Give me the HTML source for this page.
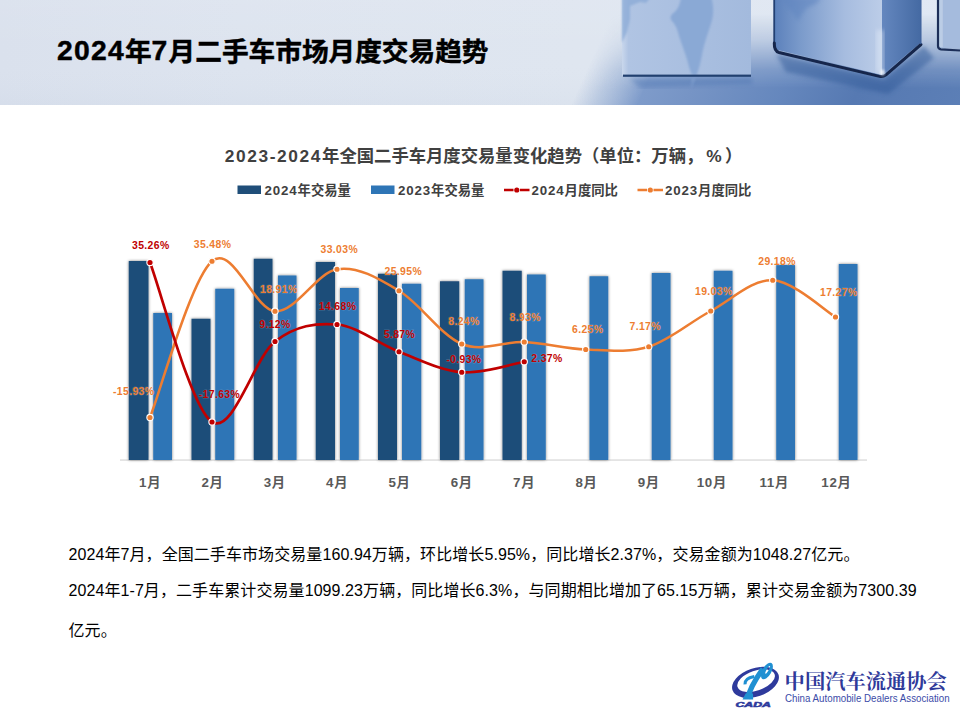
<!DOCTYPE html>
<html lang="zh-CN">
<head>
<meta charset="utf-8">
<title>2024年7月二手车市场月度交易趋势</title>
<style>
html,body{margin:0;padding:0;background:#fff;}
body{width:960px;height:720px;overflow:hidden;position:relative;font-family:"Liberation Sans","Noto Sans CJK SC",sans-serif;}
.banner{position:absolute;left:0;top:0;width:960px;height:104.7px;overflow:hidden;}
.banner svg{display:block;}
h1{position:absolute;left:57px;top:34.4px;margin:0;font-size:26.67px;line-height:36px;font-weight:bold;color:#000;white-space:nowrap;letter-spacing:0px;-webkit-text-stroke:.45px #000;}
h1 .n{font-size:28.3px;letter-spacing:1.25px;position:relative;top:-1.2px;line-height:0;}
.chart{position:absolute;left:0;top:120px;}
.ct{font-family:"Liberation Sans","Noto Sans CJK SC",sans-serif;font-weight:bold;font-size:17.33px;fill:#404040;}
.lg{font-family:"Liberation Sans","Noto Sans CJK SC",sans-serif;font-weight:bold;font-size:13.33px;fill:#404040;}
.dl{font-family:"Liberation Sans",sans-serif;font-weight:bold;font-size:10.4px;letter-spacing:.38px;paint-order:stroke;stroke:#fff;stroke-opacity:.2;stroke-width:1.2px;}
.mo{font-family:"Liberation Sans","Noto Sans CJK SC",sans-serif;font-weight:bold;font-size:13.33px;fill:#595959;}
.body{position:absolute;left:68.5px;top:536px;width:880px;margin:0;font-size:16px;line-height:38.5px;color:#000;letter-spacing:.08px;}
.body p{margin:0;white-space:nowrap;position:absolute;left:0;}
.logo{position:absolute;left:728px;top:656px;}
</style>
</head>
<body>
<div class="banner">
<svg width="960" height="105" viewBox="0 0 960 105">
<defs>
<linearGradient id="bg" x1="0" x2="1" y1="0" y2="0">
<stop offset="0" stop-color="#dae1ed"/><stop offset=".25" stop-color="#dde4ef"/><stop offset=".6" stop-color="#dfe6f0"/><stop offset="1" stop-color="#dfe7f3"/>
</linearGradient>
<linearGradient id="bgv" x1="0" x2="0" y1="0" y2="1">
<stop offset="0" stop-color="#fff" stop-opacity=".06"/><stop offset=".5" stop-color="#fff" stop-opacity="0"/><stop offset="1" stop-color="#8aa0c0" stop-opacity=".05"/>
</linearGradient>
<linearGradient id="floor" gradientUnits="userSpaceOnUse" x1="618" x2="1030" y1="0" y2="0" gradientTransform="skewX(-24)">
<stop offset="0" stop-color="#93abd2" stop-opacity="0"/><stop offset=".06" stop-color="#8ea8d0" stop-opacity=".45"/><stop offset=".16" stop-color="#7e9bca" stop-opacity="1"/><stop offset=".28" stop-color="#7694c5"/><stop offset=".5" stop-color="#6587bd"/><stop offset=".68" stop-color="#5679b2"/><stop offset="1" stop-color="#5d80b7"/>
</linearGradient>
<linearGradient id="fm" gradientUnits="userSpaceOnUse" x1="0" x2="0" y1="14" y2="88">
<stop offset="0" stop-color="#000"/><stop offset=".35" stop-color="#4a4a4a"/><stop offset=".75" stop-color="#d0d0d0"/><stop offset="1" stop-color="#fff"/>
</linearGradient>
<filter id="b05"><feGaussianBlur stdDeviation="0.5"/></filter>
<filter id="b1"><feGaussianBlur stdDeviation="1"/></filter>
<filter id="b2"><feGaussianBlur stdDeviation="2"/></filter>
<filter id="b7" x="-10%" y="-30%" width="120%" height="160%"><feGaussianBlur stdDeviation="13 6"/></filter>
<mask id="fmask" maskUnits="userSpaceOnUse" x="500" y="0" width="460" height="105"><rect x="500" y="0" width="460" height="105" fill="url(#fm)"/></mask>
<linearGradient id="c1" x1="0" x2="1" y1="0" y2="0">
<stop offset="0" stop-color="#c9d7ec"/><stop offset=".05" stop-color="#b0c4e3"/><stop offset="1" stop-color="#a3badd"/>
</linearGradient>
<linearGradient id="c2" x1="0" x2="1" y1="0" y2="0">
<stop offset="0" stop-color="#5b80bb"/><stop offset=".25" stop-color="#7b9bcb"/><stop offset=".65" stop-color="#a6bcdf"/><stop offset="1" stop-color="#bccde8"/>
</linearGradient>
<linearGradient id="c2r" x1="0" x2="1" y1="0" y2="0">
<stop offset="0" stop-color="#6487bf"/><stop offset="1" stop-color="#456aa3"/>
</linearGradient>
</defs>
<rect width="960" height="105" fill="url(#bg)"/>
<rect width="960" height="105" fill="url(#bgv)"/>
<rect x="500" y="0" width="460" height="105" fill="url(#floor)" mask="url(#fmask)"/>
<!-- contact shadows -->
<path d="M630 79L752 78L752 84L640 88Z" fill="#3f6aaa" opacity=".35" filter="url(#b2)"/>
<path d="M776 54L884 80L924 46L934 58L888 94L786 72Z" fill="#2f5897" opacity=".5" filter="url(#b2)"/>
<!-- cube 1 -->
<rect x="622" y="0" width="129" height="75.5" fill="url(#c1)"/>
<g filter="url(#b1)" fill="#8aa9d5">
<path d="M681 -2L711.5 -2C713.5 6 714 14 711.5 22C708.5 32 704.5 42 702.5 52C701 60 699.5 68 696.5 75.5L692 75C690 70 688.5 66 687.5 61C685 52 681.5 44 679 36C677.5 30 676 25 672 21C669.5 18 670.5 15 674 12.5C678 9.5 680 4 681 -2Z"/>
<path d="M622 -2L650 -2L646 3L640 2L630 6L630 19L627 32L622 43Z" opacity=".75"/>
<path d="M691.5 78L696 78L691 89Z" opacity=".45"/>
</g>
<rect x="623" y="74.6" width="128" height="2.2" fill="#21406f"/>
<!-- cube 2 -->
<path d="M774 0L774 49L882 75L882 0Z" fill="url(#c2)"/>
<path d="M882 0L882 75L920.5 43L920.5 0Z" fill="url(#c2r)"/>
<path d="M783 -3L821 -3C818 4 812 6 808 7C804 10 801 16 798 21C795 18 793 12 789 9C786 6 784 2 783 -3Z" fill="#5f84bf" opacity=".55" filter="url(#b2)"/>
<path d="M876 30L884 30L884 74L876 72Z" fill="#dfe8f6" opacity=".5" filter="url(#b2)"/>
<g filter="url(#b05)">
<path d="M774.2 0L774.2 46" fill="none" stroke="#223f73" stroke-width="1.8"/>
<path d="M774.3 43Q774 51 779 52.5L879.5 76.4Q883 77.2 886 74.8L921 44.5" fill="none" stroke="#14264b" stroke-width="3" stroke-linecap="round"/>
<path d="M920.8 0L920.8 44" stroke="#3a5f9b" stroke-width="1.4"/>
</g>
<ellipse cx="882.5" cy="72.5" rx="2.2" ry="3" fill="#fff" opacity=".75" filter="url(#b1)"/>
<!-- cube 3 -->
<rect x="938" y="0" width="30" height="48" fill="#a5bbdd"/>
<rect x="938.8" y="0" width="4" height="47" fill="#c5d4ea" opacity=".7"/>
<path d="M938 0L938 46Q938 49 941 49.3L960 50.5" fill="none" stroke="#1b2f58" stroke-width="2.2" filter="url(#b05)"/>
</svg>
</div>
<h1><span class="n">2024</span>年<span class="n">7</span>月二手车市场月度交易趋势</h1>
<svg class="chart" width="960" height="400" viewBox="0 120 960 400">
<defs><filter id="sh" x="-20%" y="-5%" width="140%" height="110%"><feGaussianBlur in="SourceAlpha" stdDeviation="1.4"/><feComponentTransfer><feFuncA type="linear" slope="0.5"/></feComponentTransfer><feMerge><feMergeNode/><feMergeNode in="SourceGraphic"/></feMerge></filter></defs>
<text x="224.8" y="162" class="ct"><tspan letter-spacing="1.6">2023-2024</tspan>年全国二手车月度交易量变化趋势（单位：万辆，<tspan dx="3" letter-spacing="3.2">%</tspan>）</text>
<rect x="237.5" y="185.5" width="23.5" height="8.5" fill="#1f4e79"/>
<text x="264.5" y="194.8" class="lg"><tspan letter-spacing=".85">2024</tspan>年交易量</text>
<rect x="371" y="185.5" width="23.5" height="8.5" fill="#2e75b6"/>
<text x="398" y="194.8" class="lg"><tspan letter-spacing=".85">2023</tspan>年交易量</text>
<path d="M504 190h9.5M520 190h9.5" stroke="#c00000" stroke-width="2.6"/><circle cx="516.8" cy="190" r="2.6" fill="#c00000"/>
<text x="531.5" y="194.8" class="lg"><tspan letter-spacing=".85">2024</tspan>月度同比</text>
<path d="M637.5 190h9.5M653.5 190h9.5" stroke="#ed7d31" stroke-width="2.6"/><circle cx="650.3" cy="190" r="2.6" fill="#ed7d31"/>
<text x="665" y="194.8" class="lg"><tspan letter-spacing=".85">2023</tspan>月度同比</text>
<rect x="120" y="459.4" width="747" height="1.3" fill="#d9d9d9"/>
<g filter="url(#sh)">
<rect x="128.75" y="261.00" width="19.75" height="199.00" fill="#1f4e79"/>
<rect x="191.50" y="318.75" width="19.00" height="141.25" fill="#1f4e79"/>
<rect x="253.75" y="258.75" width="18.75" height="201.25" fill="#1f4e79"/>
<rect x="315.75" y="262.00" width="19.25" height="198.00" fill="#1f4e79"/>
<rect x="378.00" y="273.75" width="19.00" height="186.25" fill="#1f4e79"/>
<rect x="440.00" y="281.25" width="19.25" height="178.75" fill="#1f4e79"/>
<rect x="502.50" y="270.75" width="19.25" height="189.25" fill="#1f4e79"/>
<rect x="153.25" y="313.00" width="18.75" height="147.00" fill="#2e75b6"/>
<rect x="215.25" y="288.75" width="19.00" height="171.25" fill="#2e75b6"/>
<rect x="278.00" y="275.50" width="18.50" height="184.50" fill="#2e75b6"/>
<rect x="340.00" y="288.00" width="18.75" height="172.00" fill="#2e75b6"/>
<rect x="402.00" y="283.75" width="19.25" height="176.25" fill="#2e75b6"/>
<rect x="464.75" y="279.25" width="18.75" height="180.75" fill="#2e75b6"/>
<rect x="527.00" y="274.50" width="18.75" height="185.50" fill="#2e75b6"/>
<rect x="589.50" y="276.25" width="18.75" height="183.75" fill="#2e75b6"/>
<rect x="651.75" y="273.00" width="18.75" height="187.00" fill="#2e75b6"/>
<rect x="713.75" y="270.75" width="18.75" height="189.25" fill="#2e75b6"/>
<rect x="776.25" y="265.00" width="18.75" height="195.00" fill="#2e75b6"/>
<rect x="838.75" y="264.00" width="18.75" height="196.00" fill="#2e75b6"/>
</g>
<path d="M150.00 417.50 C160.33 391.46 191.17 278.96 212.00 261.25 C232.83 243.54 254.17 309.92 275.00 311.25 C295.83 312.58 316.33 272.67 337.00 269.25 C357.67 265.83 378.21 278.29 399.00 290.75 C419.79 303.21 440.88 335.46 461.75 344.00 C482.62 352.54 503.58 341.08 524.25 342.00 C544.92 342.92 565.00 348.71 585.75 349.50 C606.50 350.29 627.92 353.17 648.75 346.75 C669.58 340.33 690.08 322.08 710.75 311.00 C731.42 299.92 751.96 279.25 772.75 280.25 C793.54 281.25 825.04 310.88 835.50 317.00" fill="none" stroke="#ed7d31" stroke-width="2.55" stroke-linecap="round" stroke-linejoin="round"/>
<path d="M150.00 262.50 C160.33 289.08 191.17 408.83 212.00 422.00 C232.83 435.17 254.17 357.75 275.00 341.50 C295.83 325.25 316.33 322.79 337.00 324.50 C357.67 326.21 378.21 343.79 399.00 351.75 C419.79 359.71 440.88 370.58 461.75 372.25 C482.62 373.92 513.83 363.50 524.25 361.75" fill="none" stroke="#c00000" stroke-width="2.7" stroke-linecap="round" stroke-linejoin="round"/>
<circle cx="150.00" cy="417.50" r="3.15" fill="#ed7d31" stroke="#fff" stroke-width="1.1"/>
<circle cx="212.00" cy="261.25" r="3.15" fill="#ed7d31" stroke="#fff" stroke-width="1.1"/>
<circle cx="275.00" cy="311.25" r="3.15" fill="#ed7d31" stroke="#fff" stroke-width="1.1"/>
<circle cx="337.00" cy="269.25" r="3.15" fill="#ed7d31" stroke="#fff" stroke-width="1.1"/>
<circle cx="399.00" cy="290.75" r="3.15" fill="#ed7d31" stroke="#fff" stroke-width="1.1"/>
<circle cx="461.75" cy="344.00" r="3.15" fill="#ed7d31" stroke="#fff" stroke-width="1.1"/>
<circle cx="524.25" cy="342.00" r="3.15" fill="#ed7d31" stroke="#fff" stroke-width="1.1"/>
<circle cx="585.75" cy="349.50" r="3.15" fill="#ed7d31" stroke="#fff" stroke-width="1.1"/>
<circle cx="648.75" cy="346.75" r="3.15" fill="#ed7d31" stroke="#fff" stroke-width="1.1"/>
<circle cx="710.75" cy="311.00" r="3.15" fill="#ed7d31" stroke="#fff" stroke-width="1.1"/>
<circle cx="772.75" cy="280.25" r="3.15" fill="#ed7d31" stroke="#fff" stroke-width="1.1"/>
<circle cx="835.50" cy="317.00" r="3.15" fill="#ed7d31" stroke="#fff" stroke-width="1.1"/>
<circle cx="150.00" cy="262.50" r="3.15" fill="#c00000" stroke="#fff" stroke-width="1.1"/>
<circle cx="212.00" cy="422.00" r="3.15" fill="#c00000" stroke="#fff" stroke-width="1.1"/>
<circle cx="275.00" cy="341.50" r="3.15" fill="#c00000" stroke="#fff" stroke-width="1.1"/>
<circle cx="337.00" cy="324.50" r="3.15" fill="#c00000" stroke="#fff" stroke-width="1.1"/>
<circle cx="399.00" cy="351.75" r="3.15" fill="#c00000" stroke="#fff" stroke-width="1.1"/>
<circle cx="461.75" cy="372.25" r="3.15" fill="#c00000" stroke="#fff" stroke-width="1.1"/>
<circle cx="524.25" cy="361.75" r="3.15" fill="#c00000" stroke="#fff" stroke-width="1.1"/>
<text x="132.00" y="248.50" class="dl" fill="#c00000">35.26%</text>
<text x="193.75" y="247.75" class="dl" fill="#ed7d31">35.48%</text>
<text x="260.00" y="293.25" class="dl" fill="#ed7d31">18.91%</text>
<text x="259.25" y="327.75" class="dl" fill="#c00000">9.12%</text>
<text x="320.50" y="253.00" class="dl" fill="#ed7d31">33.03%</text>
<text x="318.75" y="310.25" class="dl" fill="#c00000">14.68%</text>
<text x="113.00" y="395.25" class="dl" fill="#ed7d31">-15.93%</text>
<text x="198.75" y="398.25" class="dl" fill="#c00000">-17.63%</text>
<text x="384.50" y="274.50" class="dl" fill="#ed7d31">25.95%</text>
<text x="383.75" y="337.75" class="dl" fill="#c00000">5.87%</text>
<text x="448.25" y="324.50" class="dl" fill="#ed7d31">8.24%</text>
<text x="446.25" y="363.25" class="dl" fill="#c00000">-0.93%</text>
<text x="509.50" y="321.00" class="dl" fill="#ed7d31">8.93%</text>
<text x="531.25" y="362.00" class="dl" fill="#c00000">2.37%</text>
<text x="572.00" y="333.25" class="dl" fill="#ed7d31">6.25%</text>
<text x="629.50" y="329.50" class="dl" fill="#ed7d31">7.17%</text>
<text x="695.00" y="295.25" class="dl" fill="#ed7d31">19.03%</text>
<text x="758.25" y="264.75" class="dl" fill="#ed7d31">29.18%</text>
<text x="820.00" y="295.50" class="dl" fill="#ed7d31">17.27%</text>
<text x="149.80" y="486.8" text-anchor="middle" class="mo"><tspan letter-spacing=".7">1</tspan>月</text>
<text x="212.13" y="486.8" text-anchor="middle" class="mo"><tspan letter-spacing=".7">2</tspan>月</text>
<text x="274.46" y="486.8" text-anchor="middle" class="mo"><tspan letter-spacing=".7">3</tspan>月</text>
<text x="336.79" y="486.8" text-anchor="middle" class="mo"><tspan letter-spacing=".7">4</tspan>月</text>
<text x="399.12" y="486.8" text-anchor="middle" class="mo"><tspan letter-spacing=".7">5</tspan>月</text>
<text x="461.45" y="486.8" text-anchor="middle" class="mo"><tspan letter-spacing=".7">6</tspan>月</text>
<text x="523.78" y="486.8" text-anchor="middle" class="mo"><tspan letter-spacing=".7">7</tspan>月</text>
<text x="586.11" y="486.8" text-anchor="middle" class="mo"><tspan letter-spacing=".7">8</tspan>月</text>
<text x="648.44" y="486.8" text-anchor="middle" class="mo"><tspan letter-spacing=".7">9</tspan>月</text>
<text x="711.47" y="486.8" text-anchor="middle" class="mo"><tspan letter-spacing=".7">10</tspan>月</text>
<text x="773.80" y="486.8" text-anchor="middle" class="mo"><tspan letter-spacing=".7">11</tspan>月</text>
<text x="836.13" y="486.8" text-anchor="middle" class="mo"><tspan letter-spacing=".7">12</tspan>月</text>
</svg>
<div class="body">
<p style="top:0">2024年7月，全国二手车市场交易量160.94万辆，环比增长5.95%，同比增长2.37%，交易金额为1048.27亿元。</p>
<p style="top:35.6px">2024年1-7月，二手车累计交易量1099.23万辆，同比增长6.3%，与同期相比增加了65.15万辆，累计交易金额为7300.39</p>
<p style="top:76px">亿元。</p>
</div>
<div class="logo">
<svg width="232" height="64" viewBox="728 656 232 64">
<defs><mask id="rm" maskUnits="userSpaceOnUse" x="720" y="650" width="80" height="70"><rect x="720" y="650" width="80" height="70" fill="#fff"/><ellipse cx="756.1" cy="680.7" rx="19.6" ry="9.9" transform="rotate(-19 756.1 680.7)" fill="#000"/></mask>
<mask id="lm" maskUnits="userSpaceOnUse" x="720" y="650" width="80" height="70"><rect x="720" y="650" width="80" height="70" fill="#fff"/><ellipse cx="767.67" cy="669.83" rx="1.0" ry="4.4" transform="rotate(30 767.67 669.83)" fill="#000"/></mask></defs>
<g mask="url(#rm)"><ellipse cx="755.5" cy="682.4" rx="24.3" ry="14.2" transform="rotate(-19 755.5 682.4)" fill="#2e3a9c"/></g>
<g fill="none" stroke="#2090d2" stroke-linecap="butt">
<path d="M747.67 698.75C749.00 690.83 753.75 681.67 762.92 668.75" stroke-width="5.3"/>
<path d="M745.00 684.33C744.67 679.67 749.17 677.33 754.33 676.50" stroke-width="3.1"/>
</g>
<g mask="url(#lm)"><ellipse cx="766.92" cy="671.00" rx="4.5" ry="9.1" transform="rotate(30 766.92 671.00)" fill="#2090d2"/></g>
<path d="M745.67 693.50L742.50 699.50L753.17 699.50L753.00 693.50Z" fill="#2090d2"/>
<text transform="translate(735.4 707) scale(1.6 1)" font-family="'Liberation Sans',sans-serif" font-weight="bold" font-style="italic" font-size="7.7" fill="#2e3a9c" stroke="#2e3a9c" stroke-width=".55">CADA</text>
<text x="784.6" y="689.4" font-family="'Liberation Serif','Noto Serif CJK SC',serif" font-weight="700" font-size="20.3" fill="#2f3a9a">中国汽车流通协会</text>
<text x="785" y="701.7" font-family="'Liberation Sans',sans-serif" font-size="11.4" fill="#3b4ba8" textLength="164.6" lengthAdjust="spacingAndGlyphs">China Automobile Dealers Association</text>
</svg>
</div>
</body>
</html>
